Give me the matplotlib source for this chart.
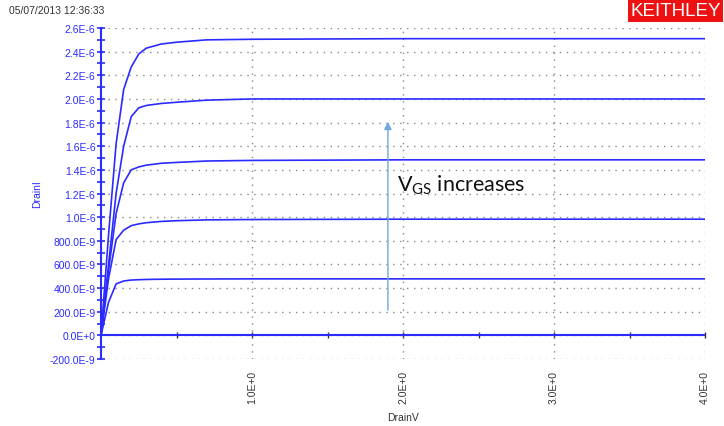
import matplotlib.pyplot as plt
import numpy as np

plt.rcParams["font.family"] = ["Liberation Sans", "DejaVu Sans"]

# Id-Vd sweep, one curve per gate voltage
drain_v = [0, 0.05, 0.1, 0.15, 0.2, 0.25, 0.3, 0.4, 0.5, 0.7, 1.0, 2.0, 3.0, 4.0]
drain_i_uA = [
    [0, 0.85, 1.62, 2.08, 2.27, 2.38, 2.43, 2.465, 2.48, 2.50, 2.505, 2.51, 2.51, 2.51],
    [0, 0.60, 1.20, 1.60, 1.85, 1.925, 1.945, 1.962, 1.972, 1.99, 2.0, 2.0, 2.0, 2.0],
    [0, 0.55, 1.03, 1.29, 1.40, 1.425, 1.44, 1.456, 1.463, 1.475, 1.48, 1.485, 1.485, 1.485],
    [0, 0.48, 0.81, 0.89, 0.928, 0.943, 0.953, 0.964, 0.97, 0.977, 0.98, 0.983, 0.983, 0.983],
    [0, 0.28, 0.435, 0.46, 0.468, 0.471, 0.473, 0.475, 0.476, 0.477, 0.478, 0.478, 0.478, 0.478],
]
y_ticks = np.arange(-200e-9, 2.61e-6, 200e-9)
y_labels = ["-200.0E-9", "0.0E+0", "200.0E-9", "400.0E-9", "600.0E-9", "800.0E-9",
            "1.0E-6", "1.2E-6", "1.4E-6", "1.6E-6", "1.8E-6", "2.0E-6", "2.2E-6",
            "2.4E-6", "2.6E-6"]
x_ticks = [1.0, 2.0, 3.0, 4.0]
x_labels = ["1.0E+0", "2.0E+0", "3.0E+0", "4.0E+0"]

blue = "#2b2bff"
fig = plt.figure(figsize=(7.24, 4.27), dpi=100)
ax = fig.add_axes([0.1395, 0.1569, 0.8343, 0.7751])

for curve in drain_i_uA:
    ax.plot(drain_v, np.array(curve) * 1e-6, color=blue, lw=1.2, zorder=3)

ax.set_xlim(0, 4.0)
ax.set_ylim(-200e-9, 2.6e-6)

# frame: only the left axis is solid, the rest is dotted grid
for side in ["top", "right", "bottom"]:
    ax.spines[side].set_visible(False)
ax.spines["left"].set_color(blue)
ax.spines["left"].set_linewidth(1.5)

ax.set_yticks(y_ticks)
ax.set_yticklabels(y_labels)
ax.set_yticks(np.arange(-100e-9, 2.6e-6, 200e-9), minor=True)
ax.tick_params(axis="y", which="both", direction="inout", length=6, width=1.2,
               color=blue, labelcolor=blue, labelsize=7.5, pad=1)
ax.set_xticks(x_ticks)
ax.set_xticklabels(x_labels, rotation=90)
ax.tick_params(axis="x", length=0, labelsize=7.5, labelcolor="#333333", pad=8)

ax.grid(True, which="major", color="#888888", linestyle=(0, (1, 4)), lw=1.0)

# zero line with its own tick marks, like the Keithley x-axis
ax.axhline(0, color=blue, lw=1.5, zorder=2)
zero_frac = (0 - ax.get_ylim()[0]) / (ax.get_ylim()[1] - ax.get_ylim()[0])
sec = ax.secondary_xaxis(zero_frac)
sec.spines["bottom"].set_visible(False)
sec.set_xticks([0.5, 1.0, 1.5, 2.0, 2.5, 3.0, 3.5, 4.0])
sec.tick_params(direction="inout", length=5, width=1, color="#333333", labelbottom=False)

ax.set_xlabel("DrainV", fontsize=7.5, color="#333333", labelpad=6)
ax.set_ylabel("DrainI", fontsize=7.5, color=blue)
ax.yaxis.set_label_coords(-0.098, 0.5)

# annotation arrow
ax.annotate("", xy=(1.90, 1.83e-6), xytext=(1.90, 0.19e-6),
            arrowprops=dict(arrowstyle="-|>", color="#6fa8dc", lw=1.0, mutation_scale=11))
ax.text(1.96, 1.28e-6, r"$\mathregular{V_{GS}}$ increases", fontsize=15.5,
        family="Lato", va="center", ha="left", color="#111111")

fig.text(0.012, 0.985, "05/07/2013 12:36:33", fontsize=7.5, color="#333333", va="top")
fig.text(0.996, 0.992, "KEITHLEY", fontsize=13.5, color="white", va="top", ha="right",
         bbox=dict(boxstyle="square,pad=0.12", fc="#ee1111", ec="none"))

plt.savefig("out.png", dpi=100)
